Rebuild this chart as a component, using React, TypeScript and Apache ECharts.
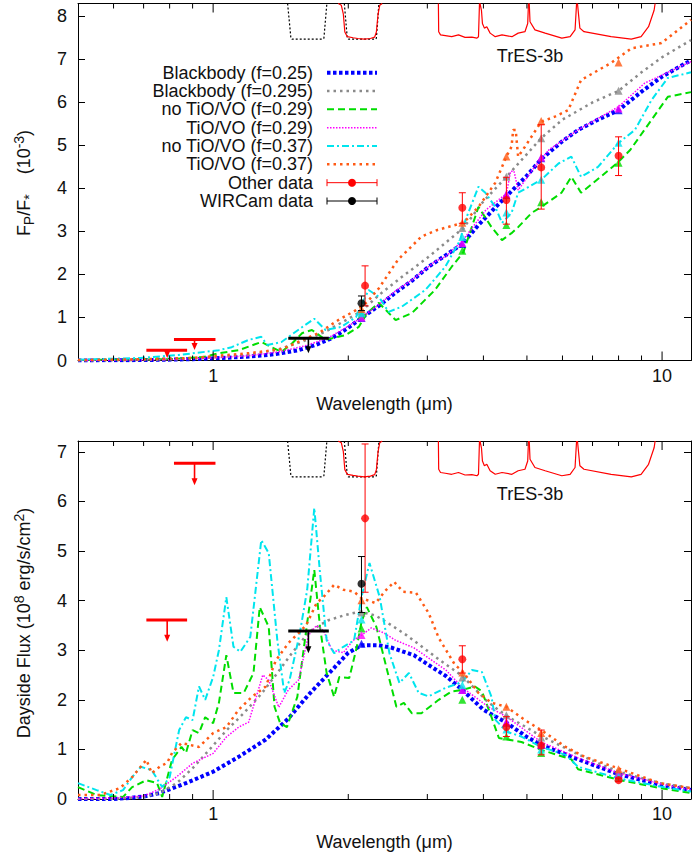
import React, { useEffect, useRef } from 'react';
import * as echarts from 'echarts';

const FONT = '"Liberation Sans", Arial, Helvetica, sans-serif';
const TXT = '#111';

// ---------- axes ----------
const xMin = 0.5;
const xMax = 11.6;
const majorTicks = [1, 10];
const minorTicks = [0.6, 0.7, 0.8, 0.9, 2, 3, 4, 5, 6, 7, 8, 9];
const topYMax = 8.3;
const botYMax = 7.22;
const filterAxisMax = 10;

// ---------- top panel: Fp/F* (1e-3) ----------
const topBB025 = [[0.5,0],[0.7,0.01],[0.9,0.03],[1.0,0.05],[1.15,0.08],[1.3,0.12],[1.4,0.16],[1.55,0.24],[1.7,0.37],[1.84,0.52],[2.0,0.76],[2.14,0.99],[2.34,1.27],[2.55,1.58],[2.77,1.85],[3.02,2.18],[3.3,2.45],[3.59,2.71],[3.9,3.15],[4.2,3.5],[4.5,3.82],[5.0,4.3],[5.38,4.68],[6.0,5.1],[6.5,5.36],[7.2,5.6],[8.0,5.82],[9.0,6.25],[10,6.6],[11.6,6.98]];
const topBB0295 = [[0.5,0],[0.7,0.01],[0.9,0.04],[1.0,0.07],[1.2,0.13],[1.4,0.26],[1.6,0.46],[1.8,0.7],[2.0,0.97],[2.14,1.15],[2.34,1.52],[2.63,1.94],[3.02,2.41],[3.35,2.8],[3.61,3.08],[4.0,3.7],[4.5,4.27],[5.0,4.8],[5.38,5.17],[6.0,5.6],[7.0,6.0],[8.0,6.27],[9.0,6.7],[10,7.05],[11.6,7.45]];
const topNoTiO029 = [[0.5,0.01],[0.8,0.03],[0.95,0.08],[1.03,0.17],[1.14,0.24],[1.28,0.43],[1.35,0.31],[1.42,0.2],[1.5,0.4],[1.58,0.64],[1.66,0.71],[1.78,0.48],[1.97,0.59],[2.11,0.78],[2.2,1.1],[2.34,1.34],[2.55,0.94],[2.77,1.1],[3.12,1.64],[3.4,2.18],[3.61,2.52],[3.9,3.57],[4.17,3.1],[4.4,2.8],[4.62,2.96],[4.78,3.1],[5.12,3.43],[5.38,3.57],[5.97,3.9],[6.28,4.27],[6.6,3.9],[7.3,4.27],[8.0,4.62],[8.5,4.9],[9.48,5.6],[10.3,6.13],[11.6,6.24]];
const topTiO029 = [[0.5,0],[0.8,0.02],[1.0,0.06],[1.2,0.11],[1.4,0.2],[1.6,0.34],[1.8,0.52],[2.0,0.8],[2.14,1.0],[2.34,1.3],[2.55,1.62],[2.77,1.87],[3.12,2.3],[3.3,2.42],[3.6,2.8],[4.05,3.5],[4.5,3.88],[4.6,4.4],[4.68,4.4],[4.78,3.96],[5.2,4.5],[5.6,4.9],[6.5,5.36],[8.0,5.9],[9.15,6.45],[11.6,6.95]];
const topNoTiO037 = [[0.5,0.02],[0.69,0.06],[0.84,0.13],[1.03,0.24],[1.1,0.31],[1.2,0.48],[1.28,0.55],[1.32,0.36],[1.42,0.43],[1.58,0.78],[1.68,0.97],[1.78,0.71],[1.93,0.78],[2.08,1.01],[2.22,1.64],[2.34,1.48],[2.46,1.13],[2.63,1.25],[2.97,1.64],[3.29,2.18],[3.55,2.8],[3.65,3.27],[3.9,4.04],[4.04,3.9],[4.25,3.57],[4.4,3.2],[4.62,3.43],[4.78,3.9],[5.38,4.2],[5.88,4.58],[6.28,4.74],[6.6,4.27],[7.2,4.5],[8.0,5.06],[8.7,5.36],[9.48,6.06],[10.3,6.57],[11.6,6.7]];
const topTiO037 = [[0.5,0.01],[0.7,0.03],[0.9,0.06],[1.0,0.1],[1.2,0.17],[1.42,0.26],[1.6,0.5],[1.72,0.64],[1.9,0.94],[2.08,1.17],[2.2,1.35],[2.34,1.68],[2.58,2.34],[2.91,2.88],[3.15,3.03],[3.46,3.15],[3.61,3.2],[3.9,3.57],[4.25,4.13],[4.5,4.74],[4.62,4.97],[4.66,5.36],[4.72,5.36],[4.78,4.74],[4.95,4.97],[5.38,5.55],[5.77,5.67],[6.18,5.82],[6.6,6.52],[7.7,6.92],[8.55,7.26],[9.97,7.38],[11.6,7.92]];

// ---------- bottom panel: dayside flux (1e8 erg/s/cm2) ----------
const botBB025 = [[0.5,0],[0.6,0],[0.65,0.02],[0.7,0.05],[0.76,0.12],[0.87,0.32],[1.0,0.55],[1.14,0.85],[1.31,1.2],[1.47,1.62],[1.63,2.1],[1.84,2.6],[2.0,2.95],[2.14,3.1],[2.34,3.1],[2.5,3.05],[2.8,2.9],[3.0,2.72],[3.3,2.48],[3.59,2.2],[4.0,1.8],[4.5,1.54],[5.0,1.25],[5.38,1.09],[6.5,0.8],[8.0,0.5],[10,0.28],[11.6,0.18]];
const botBB0295 = [[0.5,0],[0.6,0],[0.7,0.04],[0.76,0.12],[0.83,0.32],[0.9,0.62],[0.98,0.99],[1.07,1.38],[1.17,1.73],[1.28,2.12],[1.39,2.54],[1.5,2.95],[1.64,3.38],[1.8,3.6],[1.95,3.7],[2.12,3.78],[2.3,3.7],[2.5,3.5],[2.7,3.3],[2.91,3.08],[3.2,2.8],[3.59,2.48],[4.1,1.95],[4.5,1.68],[5.38,1.27],[6.5,0.9],[8.0,0.55],[9.9,0.32],[11.6,0.22]];
const botNoTiO029 = [[0.5,0.24],[0.55,0.08],[0.63,0.04],[0.66,0.24],[0.71,0.38],[0.75,0.32],[0.77,0.04],[0.81,0.79],[0.85,1.05],[0.87,0.93],[0.9,1.39],[0.93,1.33],[0.96,1.65],[1.0,1.53],[1.03,1.94],[1.07,2.9],[1.11,2.14],[1.17,2.14],[1.23,2.54],[1.27,3.87],[1.33,3.47],[1.37,1.86],[1.41,1.53],[1.46,1.45],[1.54,2.06],[1.62,3.55],[1.68,4.62],[1.73,3.47],[1.79,2.54],[1.86,2.06],[1.91,2.46],[2.01,2.44],[2.09,3.07],[2.14,3.57],[2.2,3.87],[2.31,3.47],[2.44,2.6],[2.56,1.86],[2.66,1.94],[2.77,1.73],[2.91,1.73],[3.18,2.0],[3.4,2.17],[3.59,2.2],[3.83,2.27],[3.97,2.17],[4.17,1.65],[4.33,1.23],[4.86,1.15],[5.38,0.99],[6.28,0.8],[6.5,0.6],[7.98,0.39],[9.9,0.22],[11.6,0.12]];
const botTiO029 = [[0.5,0],[0.6,0.02],[0.7,0.06],[0.76,0.2],[0.83,0.45],[0.9,0.72],[1.0,0.92],[1.07,1.25],[1.14,1.45],[1.2,1.55],[1.29,2.5],[1.33,2.4],[1.4,1.85],[1.47,2.2],[1.55,2.4],[1.63,3.3],[1.7,3.5],[1.76,3.4],[1.84,3.0],[1.95,2.95],[2.05,3.2],[2.14,3.3],[2.25,3.45],[2.4,3.35],[2.55,3.2],[2.8,3.05],[3.3,2.6],[3.6,2.24],[4.1,1.86],[4.5,1.66],[5.38,1.15],[6.5,0.83],[8.0,0.52],[10,0.3],[11.6,0.18]];
const botNoTiO037 = [[0.5,0.32],[0.55,0.18],[0.59,0.08],[0.63,0.18],[0.66,0.44],[0.69,0.65],[0.73,0.58],[0.77,0.24],[0.8,0.44],[0.84,1.39],[0.87,1.65],[0.9,1.59],[0.93,2.27],[0.96,2.0],[1.0,2.46],[1.03,3.0],[1.07,4.07],[1.11,3.07],[1.15,2.97],[1.21,3.27],[1.28,5.22],[1.33,4.96],[1.39,3.2],[1.44,2.14],[1.48,2.4],[1.56,3.35],[1.62,4.22],[1.68,5.87],[1.73,4.56],[1.79,3.2],[1.86,2.94],[1.95,3.07],[2.06,3.2],[2.14,4.07],[2.23,4.76],[2.35,4.07],[2.47,2.94],[2.6,2.34],[2.73,2.54],[2.87,2.14],[3.02,2.07],[3.29,2.24],[3.59,2.36],[3.77,2.6],[3.97,2.56],[4.17,2.06],[4.25,1.6],[4.5,1.36],[4.86,1.26],[5.38,1.05],[6.1,0.89],[6.5,0.65],[7.98,0.42],[9.9,0.25],[11.6,0.15]];
const botTiO037 = [[0.5,0.08],[0.56,0.08],[0.62,0.22],[0.66,0.44],[0.71,0.79],[0.73,0.52],[0.76,0.65],[0.79,0.73],[0.81,0.93],[0.85,1.13],[0.93,1.05],[1.0,1.33],[1.07,1.45],[1.14,1.8],[1.22,2.06],[1.31,2.27],[1.38,2.8],[1.47,3.14],[1.61,3.5],[1.7,3.95],[1.76,4.07],[1.86,4.32],[1.95,4.22],[2.06,4.18],[2.14,4.05],[2.3,3.95],[2.42,4.2],[2.53,4.38],[2.65,4.18],[2.83,4.16],[3.02,3.75],[3.18,3.25],[3.46,2.7],[3.59,2.58],[3.9,2.14],[4.17,1.94],[4.5,1.86],[4.95,1.59],[5.38,1.39],[6.1,1.05],[6.73,0.85],[7.98,0.62],[9.9,0.32],[11.6,0.22]];

// ---------- band-averaged model values (triangles) ----------
const bandLambda = [2.14, 3.59, 4.5, 5.38, 8.0];
const triTopBB025 = [0.99, 2.71, 3.85, 4.70, 5.82];
const triTopBB0295 = [1.14, 3.08, 4.27, 5.17, 6.27];
const triTopNoTiO029 = [1.05, 2.55, 3.15, 3.68, 4.60];
const triTopTiO029 = [1.00, 2.73, 3.87, 4.72, 5.86];
const triTopNoTiO037 = [1.10, 2.87, 3.44, 4.20, 5.06];
const triTopTiO037 = [1.20, 3.20, 4.74, 5.57, 6.93];
const triBotBB025 = [3.13, 2.20, 1.54, 1.09, 0.50];
const triBotBB0295 = [3.76, 2.45, 1.69, 1.24, 0.55];
const triBotNoTiO029 = [3.44, 2.00, 1.26, 0.93, 0.43];
const triBotTiO029 = [3.31, 2.20, 1.56, 1.10, 0.50];
const triBotNoTiO037 = [3.62, 2.30, 1.40, 1.00, 0.45];
const triBotTiO037 = [4.01, 2.55, 1.86, 1.33, 0.60];

// ---------- measurements ----------
const otherLambda = [2.18, 3.59, 4.5, 5.38, 8.0];
const otherTop = [1.74, 3.55, 3.73, 4.49, 4.76];
const otherTopLo = [1.27, 3.19, 3.17, 3.52, 4.30];
const otherTopHi = [2.20, 3.90, 4.26, 5.48, 5.20];
const otherBot = [5.66, 2.82, 1.45, 1.08, 0.38];
const otherBotLo = [4.17, 2.54, 1.26, 0.89, 0.35];
const otherBotHi = [7.16, 3.09, 1.66, 1.39, 0.42];
const wircamLambda = [2.14];
const wircamTop = [1.33];
const wircamTopLo = [1.16];
const wircamTopHi = [1.50];
const wircamBot = [4.34];
const wircamBotLo = [3.76];
const wircamBotHi = [4.89];

// upper limits: band edges, arrow position, limit, arrow end
const ulRedLo = [0.71, 0.818];
const ulRedHi = [0.875, 1.012];
const ulRedMid = [0.79, 0.909];
const ulRedTop = [0.24, 0.49];
const ulRedTopEnd = [0.06, 0.245];
const ulRedBot = [3.61, 6.77];
const ulRedBotEnd = [3.17, 6.33];
const ulBlackLo = [1.47];
const ulBlackHi = [1.81];
const ulBlackMid = [1.63];
const ulBlackTop = [0.52];
const ulBlackTopEnd = [0.17];
const ulBlackBot = [3.39];
const ulBlackBotEnd = [2.94];

// ---------- filter transmission (1 = full) ----------
const filterH = [[1.465,0],[1.478,0.5],[1.49,0.97],[1.5,1.0],[1.75,1.0],[1.765,0.97],[1.778,0.5],[1.792,0]];
const filterKsW = [[1.96,0],[1.975,0.5],[1.99,0.97],[2.0,1],[2.3,1],[2.31,0.97],[2.325,0.5],[2.34,0]];
const filterKs = [[1.9,0],[1.93,0.05],[1.95,0.3],[1.965,0.8],[1.99,0.93],[2.05,0.96],[2.1,0.98],[2.17,1.0],[2.24,0.98],[2.29,0.94],[2.31,0.8],[2.33,0.3],[2.35,0.05],[2.38,0]];
const irac1 = [[3.175,0],[3.18,0.79],[3.21,0.88],[3.29,0.9],[3.4,0.93],[3.52,0.88],[3.64,0.95],[3.77,0.94],[3.87,0.97],[3.9,0.93],[3.92,0]];
const irac2 = [[3.93,0],[3.96,0.19],[3.98,0.56],[4.02,0.69],[4.07,0.65],[4.14,0.83],[4.25,0.93],[4.4,0.88],[4.63,0.93],[4.78,0.83],[4.95,0.79],[5.02,0.56],[5.04,0]];
const irac3 = [[5.06,0],[5.08,0.51],[5.21,0.74],[5.49,0.83],[5.98,0.97],[6.24,0.93],[6.4,0.74],[6.45,0]];
const irac4 = [[6.48,0],[6.56,0.69],[6.7,0.79],[7.7,0.93],[8.54,1.0],[8.98,0.93],[9.33,0.65],[9.6,0.19],[9.65,0]];

const legendLabels = ['Blackbody (f=0.25)', 'Blackbody (f=0.295)', 'no TiO/VO (f=0.29)', 'TiO/VO (f=0.29)', 'no TiO/VO (f=0.37)', 'TiO/VO (f=0.37)', 'Other data', 'WIRCam data'];

// ---------- styles ----------
const modelStyles = [
  { color: '#0000ff', width: 4, dash: [3.5, 2.5] },
  { color: '#8a8a8a', width: 2.5, dash: [2.5, 4] },
  { color: '#00dd00', width: 2, dash: [7, 4] },
  { color: '#ff00ff', width: 1.5, dash: [1.5, 1.5] },
  { color: '#00e5ee', width: 2, dash: [7, 3, 2, 3] },
  { color: '#ff5a14', width: 2.5, dash: [2.5, 4] },
];
const RED = '#ff0000';
const BLACK = '#000000';

function errorBarSeries(xAxisIndex: number, yAxisIndex: number, lam: number[], lo: number[], hi: number[], color: string) {
  return {
    type: 'custom', xAxisIndex, yAxisIndex, z: 5, silent: true,
    encode: { x: 0, y: [1, 2] },
    data: lam.map((l, i) => [l, lo[i], hi[i]]),
    renderItem: (params: any, api: any) => {
      const x = api.value(0);
      const pl = api.coord([x, api.value(1)]);
      const ph = api.coord([x, api.value(2)]);
      const st = { stroke: color, lineWidth: 1 };
      return {
        type: 'group', children: [
          { type: 'line', shape: { x1: pl[0], y1: pl[1], x2: ph[0], y2: ph[1] }, style: st },
          { type: 'line', shape: { x1: ph[0] - 3.5, y1: ph[1], x2: ph[0] + 3.5, y2: ph[1] }, style: st },
          { type: 'line', shape: { x1: pl[0] - 3.5, y1: pl[1], x2: pl[0] + 3.5, y2: pl[1] }, style: st },
        ],
      };
    },
  };
}

function upperLimitSeries(xAxisIndex: number, yAxisIndex: number, lo: number[], hi: number[], mid: number[], val: number[], end: number[], color: string) {
  return {
    type: 'custom', xAxisIndex, yAxisIndex, z: 5, silent: true,
    encode: { x: [0, 1, 2], y: [3, 4] },
    data: lo.map((l, i) => [l, hi[i], mid[i], val[i], end[i]]),
    renderItem: (params: any, api: any) => {
      const a = api.coord([api.value(0), api.value(3)]);
      const b = api.coord([api.value(1), api.value(3)]);
      const c = api.coord([api.value(2), api.value(3)]);
      const e = api.coord([api.value(2), api.value(4)]);
      return {
        type: 'group', children: [
          { type: 'line', shape: { x1: a[0], y1: a[1], x2: b[0], y2: b[1] }, style: { stroke: color, lineWidth: 3 } },
          { type: 'line', shape: { x1: c[0], y1: c[1], x2: e[0], y2: e[1] - 5 }, style: { stroke: color, lineWidth: 1.6 } },
          { type: 'polygon', shape: { points: [[e[0] - 3, e[1] - 7], [e[0] + 3, e[1] - 7], [e[0], e[1]]] }, style: { fill: color } },
        ],
      };
    },
  };
}

function tickSeries(xAxisIndex: number, yAxisIndex: number) {
  return {
    type: 'custom', xAxisIndex, yAxisIndex, z: 6, silent: true,
    encode: { x: 0, y: 1 },
    data: [...majorTicks.map((v) => [v, 1]), ...minorTicks.map((v) => [v, 0])],
    renderItem: (params: any, api: any) => {
      const x = api.coord([api.value(0), 0])[0];
      const len = api.value(1) === 1 ? 9 : 5;
      const cs = params.coordSys;
      const top = cs.y;
      const bot = cs.y + cs.height;
      const st = { stroke: '#000', lineWidth: 1 };
      return {
        type: 'group', children: [
          { type: 'line', shape: { x1: x, y1: bot, x2: x, y2: bot - len }, style: st },
          { type: 'line', shape: { x1: x, y1: top, x2: x, y2: top + len }, style: st },
        ],
      };
    },
  };
}

function panelSeries(pi: number, models: number[][][], tris: number[][], oth: number[], othLo: number[], othHi: number[], wir: number[], wirLo: number[], wirHi: number[], ulR: number[], ulREnd: number[], ulB: number[], ulBEnd: number[]) {
  const xb = pi * 2;
  const yl = pi * 3;
  const yf = pi * 3 + 2;
  const s: any[] = [];
  const filters = [
    { d: filterH, c: BLACK, dash: [2, 2] },
    { d: filterKsW, c: BLACK, dash: [2, 2] },
    { d: filterKs, c: RED, dash: 'solid' },
    { d: irac1, c: RED, dash: 'solid' },
    { d: irac2, c: RED, dash: 'solid' },
    { d: irac3, c: RED, dash: 'solid' },
    { d: irac4, c: RED, dash: 'solid' },
  ];
  filters.forEach((f) => s.push({
    type: 'line', xAxisIndex: xb, yAxisIndex: yf, data: f.d, symbol: 'none', silent: true, z: 2,
    lineStyle: { color: f.c, width: 1.2, type: f.dash },
  }));
  models.forEach((m, i) => s.push({
    type: 'line', xAxisIndex: xb, yAxisIndex: yl, data: m, symbol: 'none', showSymbol: false, silent: true, z: 2,
    lineStyle: { color: modelStyles[i].color, width: modelStyles[i].width, type: modelStyles[i].dash, cap: 'butt' },
  }));
  tris.forEach((t, i) => s.push({
    type: 'scatter', xAxisIndex: xb, yAxisIndex: yl, symbol: 'triangle', symbolSize: 8, silent: true, z: 3,
    itemStyle: { color: modelStyles[i].color },
    data: bandLambda.map((l, j) => [l, t[j]]),
  }));
  s.push(errorBarSeries(xb, yl, otherLambda, othLo, othHi, RED));
  s.push({ type: 'scatter', xAxisIndex: xb, yAxisIndex: yl, symbol: 'circle', symbolSize: 8, silent: true, z: 6, itemStyle: { color: RED }, data: otherLambda.map((l, i) => [l, oth[i]]) });
  s.push(errorBarSeries(xb, yl, wircamLambda, wirLo, wirHi, BLACK));
  s.push({ type: 'scatter', xAxisIndex: xb, yAxisIndex: yl, symbol: 'circle', symbolSize: 8, silent: true, z: 6, itemStyle: { color: BLACK }, data: wircamLambda.map((l, i) => [l, wir[i]]) });
  s.push(upperLimitSeries(xb, yl, ulRedLo, ulRedHi, ulRedMid, ulR, ulREnd, RED));
  s.push(upperLimitSeries(xb, yl, ulBlackLo, ulBlackHi, ulBlackMid, ulB, ulBEnd, BLACK));
  s.push(tickSeries(xb, yl));
  return s;
}

const axisLine = { show: true, onZero: false, lineStyle: { color: '#000', width: 1 } };
const labelFmtX = (v: number) => (Math.abs(v - 1) < 1e-6 ? '1' : Math.abs(v - 10) < 1e-6 ? '10' : '');
const labelFmtY = (v: number) => (Math.abs(v - Math.round(v)) < 1e-6 ? String(Math.round(v)) : '');

function xAxes(pi: number) {
  return [
    {
      gridIndex: pi, type: 'log', logBase: 10, min: xMin, max: xMax, position: 'bottom',
      axisLine, axisTick: { show: false }, splitLine: { show: false },
      axisLabel: { margin: 6, fontSize: 18, fontFamily: FONT, color: TXT, formatter: labelFmtX },
      name: 'Wavelength (μm)', nameLocation: 'middle', nameGap: 34,
      nameTextStyle: { fontSize: 18, fontFamily: FONT, color: TXT },
    },
    {
      gridIndex: pi, type: 'log', logBase: 10, min: xMin, max: xMax, position: 'top',
      axisLine, axisTick: { show: false }, axisLabel: { show: false }, splitLine: { show: false },
    },
  ];
}

function yAxes(pi: number, max: number) {
  return [
    {
      gridIndex: pi, type: 'value', min: 0, max, interval: 1, position: 'left',
      axisLine, axisTick: { inside: true, length: 7, lineStyle: { color: '#000' } }, splitLine: { show: false },
      axisLabel: { margin: 11, fontSize: 18, fontFamily: FONT, color: TXT, formatter: labelFmtY },
    },
    {
      gridIndex: pi, type: 'value', min: 0, max, interval: 1, position: 'right',
      axisLine, axisTick: { inside: true, length: 7, lineStyle: { color: '#000' } }, splitLine: { show: false },
      axisLabel: { show: false },
    },
    { gridIndex: pi, type: 'value', min: 0, max: filterAxisMax, inverse: true, show: false },
  ];
}

const rich = {
  n: { fontSize: 18, fontFamily: FONT, fill: TXT, lineHeight: 24, verticalAlign: 'middle' },
  sub: { fontSize: 14, fontFamily: FONT, fill: TXT, lineHeight: 14, verticalAlign: 'bottom' },
  sup: { fontSize: 14, fontFamily: FONT, fill: TXT, lineHeight: 14, verticalAlign: 'top' },
};

function legendGraphics() {
  const els: any[] = [];
  const y0 = 72.7;
  const gap = 18.33;
  const tx = 313;
  const x1 = 327;
  const x2 = 377;
  legendLabels.forEach((lab, i) => {
    const y = y0 + gap * i;
    els.push({ type: 'text', x: tx, y, z: 100, style: { text: lab, fontSize: 18, fontFamily: FONT, fill: TXT, align: 'right', verticalAlign: 'middle' } });
    if (i < 6) {
      const m = modelStyles[i];
      els.push({ type: 'line', z: 100, shape: { x1, y1: y, x2, y2: y }, style: { stroke: m.color, lineWidth: m.width, lineDash: m.dash } });
    } else {
      const c = i === 6 ? RED : BLACK;
      els.push({ type: 'line', z: 100, shape: { x1, y1: y, x2, y2: y }, style: { stroke: c, lineWidth: 1 } });
      els.push({ type: 'line', z: 100, shape: { x1, y1: y - 3.5, x2: x1, y2: y + 3.5 }, style: { stroke: c, lineWidth: 1 } });
      els.push({ type: 'line', z: 100, shape: { x1: x2, y1: y - 3.5, x2, y2: y + 3.5 }, style: { stroke: c, lineWidth: 1 } });
      els.push({ type: 'circle', z: 100, shape: { cx: (x1 + x2) / 2, cy: y, r: 4 }, style: { fill: c } });
    }
  });
  return els;
}

function buildOption() {
  const graphic: any[] = [
    ...legendGraphics(),
    { type: 'text', x: 530, y: 56, z: 100, style: { text: 'TrES-3b', fontSize: 18, fontFamily: FONT, fill: TXT, align: 'center', verticalAlign: 'middle' } },
    { type: 'text', x: 530, y: 494, z: 100, style: { text: 'TrES-3b', fontSize: 18, fontFamily: FONT, fill: TXT, align: 'center', verticalAlign: 'middle' } },
    {
      type: 'text', x: 24, y: 183, rotation: Math.PI / 2, z: 100,
      style: { text: '{n|F}{sub|P}{n|/F}{sub|*}{n|    (10}{sup|-3}{n|)}', rich, align: 'center', verticalAlign: 'middle' },
    },
    {
      type: 'text', x: 24, y: 623, rotation: Math.PI / 2, z: 100,
      style: { text: '{n|Dayside Flux (10}{sup|8}{n| erg/s/cm}{sup|2}{n|)}', rich, align: 'center', verticalAlign: 'middle' },
    },
  ];
  return {
    animation: false,
    backgroundColor: '#ffffff',
    grid: [
      { left: 78, top: 3.5, width: 615, height: 357 },
      { left: 78, top: 441, width: 615, height: 358 },
    ],
    xAxis: [...xAxes(0), ...xAxes(1)],
    yAxis: [...yAxes(0, topYMax), ...yAxes(1, botYMax)],
    series: [
      ...panelSeries(0,
        [topBB025, topBB0295, topNoTiO029, topTiO029, topNoTiO037, topTiO037],
        [triTopBB025, triTopBB0295, triTopNoTiO029, triTopTiO029, triTopNoTiO037, triTopTiO037],
        otherTop, otherTopLo, otherTopHi, wircamTop, wircamTopLo, wircamTopHi,
        ulRedTop, ulRedTopEnd, ulBlackTop, ulBlackTopEnd),
      ...panelSeries(1,
        [botBB025, botBB0295, botNoTiO029, botTiO029, botNoTiO037, botTiO037],
        [triBotBB025, triBotBB0295, triBotNoTiO029, triBotTiO029, triBotNoTiO037, triBotTiO037],
        otherBot, otherBotLo, otherBotHi, wircamBot, wircamBotLo, wircamBotHi,
        ulRedBot, ulRedBotEnd, ulBlackBot, ulBlackBotEnd),
    ],
    graphic,
  };
}

export default function App() {
  const ref = useRef<HTMLDivElement>(null);
  useEffect(() => {
    if (!ref.current) return;
    const chart = echarts.init(ref.current, null, { renderer: 'svg' });
    chart.setOption(buildOption() as any);
    return () => chart.dispose();
  }, []);
  return <div ref={ref} style={{ position: 'absolute', left: 0, top: 0, width: 694, height: 860, background: '#fff' }} />;
}
